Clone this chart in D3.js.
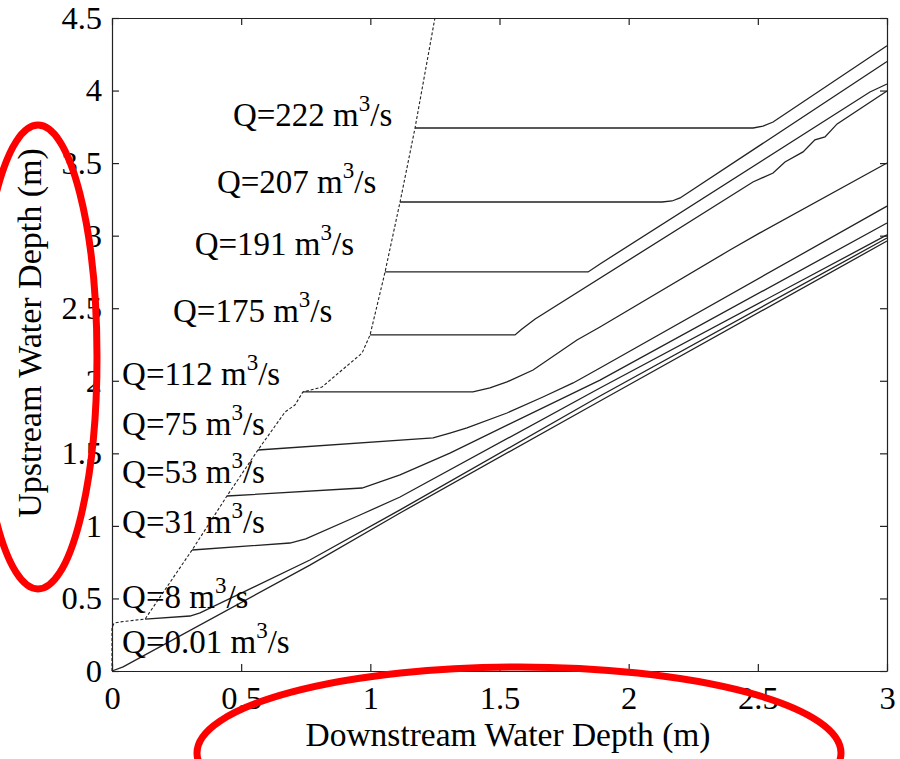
<!DOCTYPE html>
<html>
<head>
<meta charset="utf-8">
<script src="https://cdn.jsdelivr.net/npm/d3@7/dist/d3.min.js"></script>
<style>
  body { margin: 0; background: #fff; }
  text { font-family: "Liberation Serif", "Times New Roman", serif; fill: #000; }
</style>
</head>
<body>
<div id="chart"></div>
<script>
// tick values
var xTicks = [0, 0.5, 1, 1.5, 2, 2.5, 3];
var yTicks = [0, 0.5, 1, 1.5, 2, 2.5, 3, 3.5, 4, 4.5];

// dashed envelope (start of each rating curve)
var envelope = [[0,0],[0,0.30],[0.008,0.33],[0.031,0.338],[0.128,0.358],[0.31,0.834],[0.445,1.206],
  [0.565,1.523],[0.67,1.785],[0.708,1.833],[0.739,1.923],[0.813,1.957],[0.968,2.191],[0.999,2.316],
  [1.057,2.75],[1.115,3.232],[1.173,3.742],[1.25,4.5]];

// one curve per discharge, [downstream depth, upstream depth]
var q001 = [[0,0],[0.043,0.028],[0.766,0.73],[1.115,1.089],[1.889,1.861],[3,2.963]];
var q8   = [[0.128,0.358],[0.302,0.379],[0.341,0.4],[0.766,0.765],[1.115,1.11],[1.889,1.895],[3,2.984]];
var q31  = [[0.31,0.834],[0.689,0.882],[0.75,0.91],[0.96,1.075],[1.115,1.199],[1.889,1.95],[3,3.005]];
var q53  = [[0.445,1.206],[0.968,1.261],[1.115,1.351],[1.308,1.502],[1.889,2.005],[3,3.087]];
var q75  = [[0.565,1.523],[1.243,1.606],[1.308,1.64],[1.374,1.675],[1.529,1.778],[1.668,1.888],
  [1.785,1.985],[1.889,2.088],[3,3.204]];
var q112 = [[0.739,1.923],[1.397,1.923],[1.463,1.951],[1.529,1.992],[1.63,2.074],[1.8,2.281],
  [1.889,2.371],[2.392,2.901],[2.508,3.019],[3,3.501]];
var q175 = [[0.999,2.316],[1.56,2.316],[1.587,2.357],[1.638,2.426],[2.481,3.37],[2.559,3.432],
  [2.605,3.508],[2.675,3.577],[2.721,3.66],[2.76,3.68],[2.807,3.77],[3,3.997]];
var q191 = [[1.057,2.75],[1.843,2.75],[1.889,2.805],[2.934,3.99],[3,4.045]];
var q207 = [[1.115,3.232],[2.129,3.232],[2.168,3.239],[2.199,3.26],[3,4.2]];
var q222 = [[1.173,3.742],[2.482,3.742],[2.52,3.755],[2.559,3.783],[3,4.309]];

// labels
var qNames = ["0.01", "8", "31", "53", "75", "112", "175", "191", "207", "222"];
var labelX = [0.039, 0.039, 0.039, 0.039, 0.039, 0.039, 0.236, 0.32, 0.406, 0.468];
var labelY = [0.124, 0.434, 0.951, 1.296, 1.626, 1.971, 2.405, 2.87, 3.294, 3.756];

var curves = [q001, q8, q31, q53, q75, q112, q175, q191, q207, q222];

var width = 900, height = 759;
var margin = { top: 18, right: 13, bottom: 88, left: 112 };
var plotW = width - margin.left - margin.right,
    plotH = height - margin.top - margin.bottom;

var svg = d3.select("#chart")
  .append("svg")
    .attr("width", width)
    .attr("height", height);

var x = d3.scaleLinear().domain([0, 3]).range([margin.left, margin.left + plotW]);
var y = d3.scaleLinear().domain([0, 4.5]).range([margin.top + plotH, margin.top]);

var fmt = function(d) { return String(d); };

// axes, MATLAB style: ticks pointing inward on all four sides
svg.append("g")
  .attr("transform", "translate(0," + y(0) + ")")
  .call(d3.axisBottom(x).tickValues(xTicks).tickFormat(fmt).tickSize(-7).tickSizeOuter(0).tickPadding(15));
svg.append("g")
  .attr("transform", "translate(" + x(0) + ",0)")
  .call(d3.axisLeft(y).tickValues(yTicks).tickFormat(fmt).tickSize(-7).tickSizeOuter(0).tickPadding(10));
svg.append("g")
  .attr("transform", "translate(0," + y(4.5) + ")")
  .call(d3.axisTop(x).tickValues(xTicks).tickFormat("").tickSize(-7).tickSizeOuter(0));
svg.append("g")
  .attr("transform", "translate(" + x(3) + ",0)")
  .call(d3.axisRight(y).tickValues(yTicks).tickFormat("").tickSize(-7).tickSizeOuter(0));

svg.selectAll(".domain, .tick line").attr("stroke", "#222").attr("stroke-width", 1.2);
svg.selectAll(".tick text")
  .style("font-size", "32.5px")
  .style("font-family", "'Liberation Serif', 'Times New Roman', serif")
  .attr("fill", "#000");

// axis titles
svg.append("text")
  .attr("x", 508)
  .attr("y", 746)
  .attr("text-anchor", "middle")
  .style("font-size", "33.5px")
  .text("Downstream Water Depth (m)");

svg.append("text")
  .attr("transform", "translate(41," + 333 + ") rotate(-90)")
  .attr("text-anchor", "middle")
  .style("font-size", "34px")
  .text("Upstream Water Depth (m)");

// curves
var line = d3.line()
  .x(function(d) { return x(d[0]); })
  .y(function(d) { return y(d[1]); });

svg.selectAll("path.curve")
  .data(curves)
  .enter()
  .append("path")
    .attr("class", "curve")
    .attr("d", line)
    .style("fill", "none")
    .style("stroke", "#222")
    .style("stroke-width", 1.3);

svg.append("path")
  .datum(envelope)
  .attr("d", line)
  .style("fill", "none")
  .style("stroke", "#222")
  .style("stroke-width", 1.1)
  .style("stroke-dasharray", "3,2");

// Q labels
var labels = svg.selectAll("text.qlabel")
  .data(qNames)
  .enter()
  .append("text")
    .attr("class", "qlabel")
    .attr("x", function(d, i) { return x(labelX[i]); })
    .attr("y", function(d, i) { return y(labelY[i]); })
    .style("font-size", "33px");
labels.append("tspan").text(function(d) { return "Q=" + d + " m"; });
labels.append("tspan").attr("dy", -15).style("font-size", "23px").text("3");
labels.append("tspan").attr("dy", 15).text("/s");

// red hand-drawn highlight ellipses
svg.append("ellipse")
  .attr("cx", 38).attr("cy", 357).attr("rx", 59).attr("ry", 232)
  .style("fill", "none").style("stroke", "#ff0000").style("stroke-width", 7);
svg.append("ellipse")
  .attr("cx", 519).attr("cy", 753).attr("rx", 322).attr("ry", 86)
  .style("fill", "none").style("stroke", "#ff0000").style("stroke-width", 7);
</script>
</body>
</html>
